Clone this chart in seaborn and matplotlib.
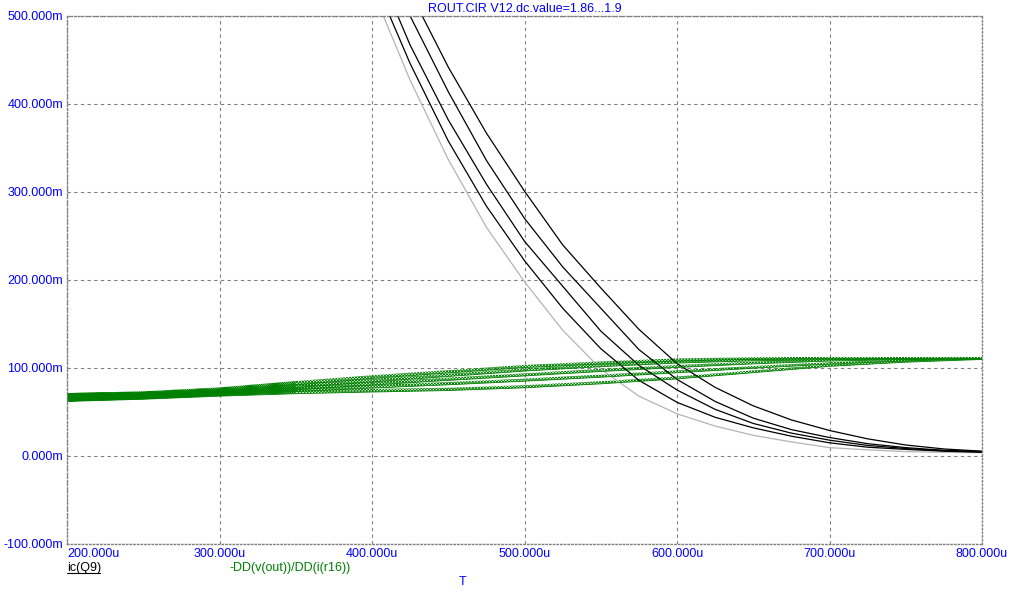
import matplotlib
matplotlib.use('Agg')
import matplotlib.pyplot as plt
from matplotlib.lines import Line2D
import seaborn as sns
import pandas as pd

# ic(Q9) for the five V12 sweep values (T in u, value in m)
t_ic = [400, 425, 450, 475, 500, 525, 550, 575, 600, 625, 650, 675, 700, 725, 750, 775, 800]
ic_run0 = [531, 427, 337, 260, 198, 143, 99, 68, 48, 34, 23.5, 16, 9.5, 7, 5, 4.2, 3.8]
ic_run1 = [547, 446, 358, 284, 222, 168, 122, 86, 61, 44, 32, 22.5, 15, 10, 7.5, 5.5, 4.3]
ic_run2 = [569, 467, 382, 309, 244, 193, 142, 103, 75, 53, 37, 26, 18, 12, 8.5, 6, 4.6]
ic_run3 = [604, 500, 414, 336, 270, 215, 168, 121, 87, 62, 43, 30, 21, 14, 9.5, 6.5, 5]
ic_run4 = [629, 527, 442, 367, 301, 240, 191, 144, 105, 78, 57, 41, 29, 19.5, 12.5, 8, 5.5]

# -DD(v(out))/DD(i(r16)) for the same runs, with its ripple half-height
t_dd = [200, 250, 300, 350, 400, 450, 500, 550, 600, 650, 700, 750, 800]
dd_run0 = [67, 70, 75, 83, 90, 96, 102, 106, 109.5, 111, 111.5, 111.5, 111.5]
dd_run1 = [67, 69.5, 74, 80, 86, 92, 98, 103, 107, 109.5, 110.5, 111, 111.5]
dd_run2 = [67, 69, 73, 77.5, 82.5, 87.5, 92.5, 97.5, 102, 106, 109, 110.5, 111.3]
dd_run3 = [67, 68.5, 72, 75.5, 79, 82.5, 86.5, 91, 96, 101, 105.5, 109, 111]
dd_run4 = [66.5, 68, 71, 73, 74.5, 76, 79, 83.5, 89, 96, 103, 107.5, 110.5]
ripple = [4.5, 3.5, 3, 2.2, 1.8, 1.6, 1.5, 1.5, 1.4, 1.3, 1.1, 0.9, 0.8]

x_ticks = [200, 300, 400, 500, 600, 700, 800]
y_ticks = [-100, 0, 100, 200, 300, 400, 500]

blue = '#0000FF'
green = '#008000'

sns.set_style('white')
plt.rcParams['font.family'] = ['Liberation Sans', 'DejaVu Sans']
plt.rcParams['hatch.linewidth'] = 0.55

fig = plt.figure(figsize=(10.14, 5.96), dpi=100)
ax = fig.add_axes([67 / 1014, 52 / 596, 915 / 1014, 528 / 596])

# black family of curves, first run drawn light gray
ic_runs = [ic_run0, ic_run1, ic_run2, ic_run3, ic_run4]
df_ic = pd.DataFrame({
    'T': t_ic * len(ic_runs),
    'ic': [v for run in ic_runs for v in run],
    'run': [i for i, run in enumerate(ic_runs) for _ in run],
})
sns.lineplot(data=df_ic, x='T', y='ic', hue='run',
             palette=['#B4B4B4', 'black', 'black', 'black', 'black'],
             estimator=None, legend=False, linewidth=0.9, ax=ax)

# green curves: lower edge plus hatched ripple band (ripple is denser early on)
for run in [dd_run0, dd_run1, dd_run2, dd_run3, dd_run4]:
    lo = [c - r for c, r in zip(run, ripple)]
    hi = [c + r for c, r in zip(run, ripple)]
    ax.fill_between(t_dd[:4], lo[:4], hi[:4], facecolor='none', edgecolor=green,
                    hatch='x' * 16, linewidth=0)
    ax.fill_between(t_dd[3:], lo[3:], hi[3:], facecolor='none', edgecolor=green,
                    hatch='x' * 11, linewidth=0)
    sns.lineplot(x=t_dd, y=lo, color=green, linewidth=0.6, ax=ax)

ax.set_xlim(200, 800)
ax.set_ylim(-100, 500)
ax.set_xticks(x_ticks)
ax.set_yticks(y_ticks)
ax.set_xticklabels([f'{v:.3f}u' for v in x_ticks])
ax.set_yticklabels([f'{v:.3f}m' for v in y_ticks])
ax.get_xticklabels()[0].set_horizontalalignment('left')
ax.tick_params(length=0, labelcolor=blue, labelsize=9, pad=3)
ax.set_xlabel('')
ax.set_ylabel('')

ax.grid(True, color='#808080', linestyle=(0, (3, 3)), linewidth=0.8)
for sp in ax.spines.values():
    sp.set_color('#808080')
    sp.set_linestyle(':')
    sp.set_linewidth(1)

ax.set_title('ROUT.CIR V12.dc.value=1.86...1.9', color=blue, fontsize=9, pad=3)

fig.text(67 / 1014, 1 - 568 / 596, 'ic(Q9)', color='black', fontsize=9, va='center')
fig.add_artist(Line2D([67 / 1014, 100 / 1014], [1 - 573 / 596, 1 - 573 / 596],
                      color='black', linewidth=0.8))
fig.text(230 / 1014, 1 - 568 / 596, '-DD(v(out))/DD(i(r16))', color=green,
         fontsize=9, va='center')
fig.text(463 / 1014, 1 - 582 / 596, 'T', color=blue, fontsize=9,
         ha='center', va='center')

fig.savefig('out.png', dpi=100)
